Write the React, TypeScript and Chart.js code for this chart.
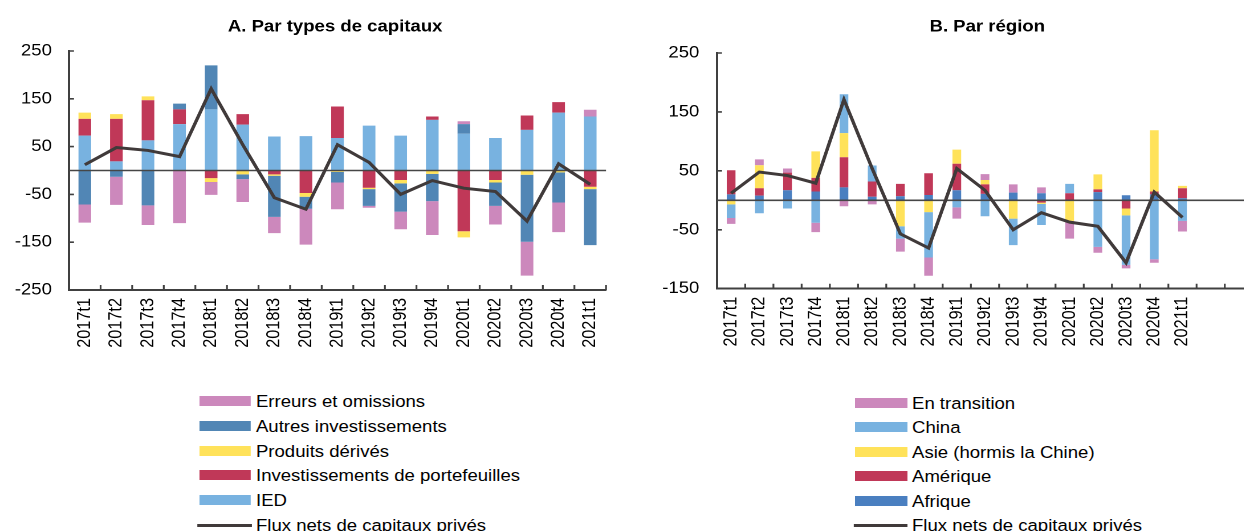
import React, { useEffect, useRef } from 'react';
import { Chart, registerables } from 'chart.js';

Chart.register(...registerables);

// ---------- data ----------
const categories = [
  '2017t1', '2017t2', '2017t3', '2017t4',
  '2018t1', '2018t2', '2018t3', '2018t4',
  '2019t1', '2019t2', '2019t3', '2019t4',
  '2020t1', '2020t2', '2020t3', '2020t4',
  '2021t1',
];
const categoriesB = [...categories, '', ''];

// Panel A : par types de capitaux
const ied = [73, 19, 63, 97, 128, 96, 71, 72, 68, 94, 73, 106, 77, 68, 85, 121, 113];
const portefeuilles = [35, 89, 84, 31, -16, 22, -8, -47, 66, -36, -20, 7, -127, -20, 30, 22, -34];
const derives = [13, 10, 8, 0, -8, -8, -3, -8, -3, -3, -7, -7, -13, -5, -9, -4, -5];
const autres = [-71, -13, -73, 12, 92, -10, -86, -25, -22, -35, -59, -57, 20, -49, -140, -63, -117];
const erreurs = [-38, -59, -41, -110, -27, -48, -34, -75, -56, -4, -37, -71, 6, -39, -71, -62, 14];

// Flux nets de capitaux privés (same in both panels)
const fluxNets = [12, 48, 42, 29, 171, 54, -57, -81, 54, 17, -50, -21, -37, -44, -106, 14, -29];

// Panel B : par région
const afrique = [10, 8, 17, 15, 22, 6, 7, 9, 17, 11, 13, 12, 0, 14, 8.5, 10, 3.4];
const amerique = [41, 12.5, 30, 23, 51, 26, 21, 37, 45, 16, 0, -4, 12, 4.6, -14, 5, 17];
const asie = [-7, 39, 0, 45, 41, 0, -44, -20, 24, 7.4, -31, -2, -35, 25.5, -11.5, 104, 4];
const china = [-23, -22, -14, -38, 66, 27, -21, -77, -12, -27, -45, -36, 16, -79, -84, -100, -35];
const transition = [-10, 10, 7, -16, -10, -7, -22, -31, -19, 10, 14, 10, -30, -10, -6, -6, -18];

const seriesNamesA = ['IED', 'Investissements de portefeuilles', 'Produits dérivés', 'Autres investissements', 'Erreurs et omissions'];
const seriesDataA = [ied, portefeuilles, derives, autres, erreurs];
const seriesNamesB = ['Afrique', 'Amérique', 'Asie (hormis la Chine)', 'China', 'En transition'];
const seriesDataB = [afrique, amerique, asie, china, transition];
const lineName = 'Flux nets de capitaux privés';

// ---------- styles ----------
const colorsA = ['#78b2e0', '#c03858', '#ffe25a', '#5186b5', '#cc88bc'];
const colorsB = ['#4a7fc0', '#c03858', '#ffe25a', '#78b2e0', '#cc88bc'];
const LINE_COLOR = '#403a3a';
const AXIS = '#404040';
const K = 1.14; // horizontal stretch of the reference picture
const FONT = '"Liberation Sans", Arial, Helvetica, sans-serif';
const FS = 16.3;

const axisDeco = {
  id: 'axisDeco',
  beforeDatasetDraw(chart: any, args: any) {
    if (args.meta.type !== 'line') return;
    const { ctx, chartArea } = chart;
    const y0 = chart.scales.y.getPixelForValue(0);
    ctx.save();
    ctx.strokeStyle = '#464646';
    ctx.lineWidth = 1.6;
    ctx.beginPath();
    ctx.moveTo(chartArea.left, y0);
    ctx.lineTo(chartArea.right, y0);
    ctx.stroke();
    ctx.restore();
  },
  afterDraw(chart: any) {
    const { ctx, chartArea } = chart;
    const x = chart.scales.x;
    const y = chart.scales.y;
    ctx.save();
    ctx.strokeStyle = AXIS;
    ctx.lineWidth = 1.6;
    ctx.beginPath();
    y.ticks.forEach((_: any, i: number) => {
      const py = y.getPixelForTick(i);
      ctx.moveTo(chartArea.left, py);
      ctx.lineTo(chartArea.left + 5 / K, py);
    });
    for (let i = 1; i <= x.ticks.length; i++) {
      const px = x.getPixelForValue(i - 0.5);
      ctx.moveTo(px, chartArea.bottom);
      ctx.lineTo(px, chartArea.bottom - 5);
    }
    ctx.stroke();
    ctx.restore();
  },
};

type Cfg = {
  title: string;
  labels: string[];
  names: string[];
  data: number[][];
  colors: string[];
  min: number;
  max: number;
  yW: number;
  rW: number;
  xH: number;
  titleBottom: number;
  yPad: number;
  barPct: number;
};

function makeConfig(c: Cfg): any {
  const font = { family: FONT, size: FS };
  return {
    type: 'bar',
    data: {
      labels: c.labels,
      datasets: [
        {
          type: 'line',
          label: lineName,
          data: fluxNets,
          borderColor: LINE_COLOR,
          backgroundColor: LINE_COLOR,
          borderWidth: 3,
          pointRadius: 0,
          tension: 0,
          order: 0,
          stack: 'line',
        },
        ...c.names.map((n, i) => ({
          type: 'bar',
          label: n,
          data: c.data[i],
          backgroundColor: c.colors[i],
          borderWidth: 0,
          order: 1,
          stack: 'bars',
          barPercentage: c.barPct,
          categoryPercentage: 1,
        })),
      ],
    },
    options: {
      responsive: false,
      animation: false,
      devicePixelRatio: 2,
      layout: { padding: 0 },
      plugins: {
        legend: { display: false },
        tooltip: { enabled: false },
        title: {
          display: true,
          text: c.title,
          color: '#000',
          font: { family: FONT, size: FS, weight: 'bold' },
          padding: { top: 17, bottom: c.titleBottom },
        },
      },
      scales: {
        x: {
          stacked: true,
          offset: true,
          grid: { display: false, drawTicks: false },
          border: { display: true, color: AXIS, width: 2 },
          ticks: {
            autoSkip: false,
            minRotation: 90,
            maxRotation: 90,
            padding: 8,
            color: '#000',
            font,
          },
          afterFit: (s: any) => { s.height = c.xH; },
        },
        y: {
          stacked: true,
          min: c.min,
          max: c.max,
          grid: { display: false, drawTicks: false },
          border: { display: true, color: AXIS, width: 2 },
          ticks: { stepSize: 100, padding: c.yPad, color: '#000', font },
          afterFit: (s: any) => { s.width = c.yW; },
        },
        yR: {
          position: 'right',
          grid: { display: false, drawTicks: false },
          border: { display: false },
          ticks: { display: false },
          afterFit: (s: any) => { s.width = c.rW; },
        },
      },
    },
    plugins: [axisDeco],
  };
}

function ChartCanvas({ cfg, left, width, height }: { cfg: Cfg; left: number; width: number; height: number }) {
  const ref = useRef<HTMLCanvasElement | null>(null);
  useEffect(() => {
    if (!ref.current) return;
    const chart = new Chart(ref.current, makeConfig(cfg));
    return () => chart.destroy();
  }, []);
  return (
    <canvas
      ref={ref}
      width={width}
      height={height}
      style={{ position: 'absolute', left, top: 0, width: width + 'px', height: height + 'px' }}
    />
  );
}

type Item = { label: string; color: string; kind: 'box' | 'line' };

function Legend({ items, left, top, step, boxW, textLeft }: { items: Item[]; left: number; top: number; step: number; boxW: number; textLeft: number }) {
  return (
    <>
      {items.map((it, i) => {
        const cy = top + i * step;
        return (
          <React.Fragment key={i}>
            {it.kind === 'line' ? (
              <div style={{ position: 'absolute', left: left - 1.5, top: cy - 1.5, width: boxW + 2, height: 3, background: it.color }} />
            ) : (
              <div style={{ position: 'absolute', left, top: cy - 5, width: boxW, height: 10, background: it.color }} />
            )}
            <div
              style={{
                position: 'absolute',
                left: textLeft,
                top: cy - 10,
                height: 20,
                lineHeight: '20px',
                fontSize: FS,
                color: '#000',
                whiteSpace: 'nowrap',
              }}
            >
              {it.label}
            </div>
          </React.Fragment>
        );
      })}
    </>
  );
}

const cfgA: Cfg = {
  title: 'A. Par types de capitaux',
  labels: categories,
  names: seriesNamesA,
  data: seriesDataA,
  colors: colorsA,
  min: -250,
  max: 250,
  yW: 69 / K,
  rW: 588 - 606 / K,
  xH: 90,
  titleBottom: 51 - 17 - FS * 1.2,
  yPad: 15,
  barPct: 0.4,
};

const cfgB: Cfg = {
  title: 'B. Par région',
  labels: categoriesB,
  names: seriesNamesB,
  data: seriesDataB,
  colors: colorsB,
  min: -150,
  max: 250,
  yW: 717 / K - 560,
  rW: 560 + 612 - 1253 / K,
  xH: 380 - 288.7,
  titleBottom: 53 - 17 - FS * 1.2,
  yPad: 15.5,
  barPct: 0.31,
};

export default function App() {
  const legendA: Item[] = [
    ...seriesNamesA.map((n, i) => ({ label: n, color: colorsA[i], kind: 'box' as const })).reverse(),
    { label: lineName, color: LINE_COLOR, kind: 'line' },
  ];
  const legendB: Item[] = [
    ...seriesNamesB.map((n, i) => ({ label: n, color: colorsB[i], kind: 'box' as const })).reverse(),
    { label: lineName, color: LINE_COLOR, kind: 'line' },
  ];
  return (
    <div
      style={{
        position: 'absolute',
        left: 0,
        top: 0,
        width: 1244 / K,
        height: 531,
        overflow: 'hidden',
        background: '#fff',
        transform: `scaleX(${K})`,
        transformOrigin: '0 0',
        fontFamily: FONT,
      }}
    >
      <ChartCanvas cfg={cfgA} left={0} width={588} height={380} />
      <ChartCanvas cfg={cfgB} left={560} width={612} height={380} />
      <Legend items={legendA} left={199 / K} top={401} step={24.8} boxW={52 / K} textLeft={256 / K} />
      <Legend items={legendB} left={855 / K} top={402.6} step={24.5} boxW={52 / K} textLeft={912 / K} />
    </div>
  );
}
